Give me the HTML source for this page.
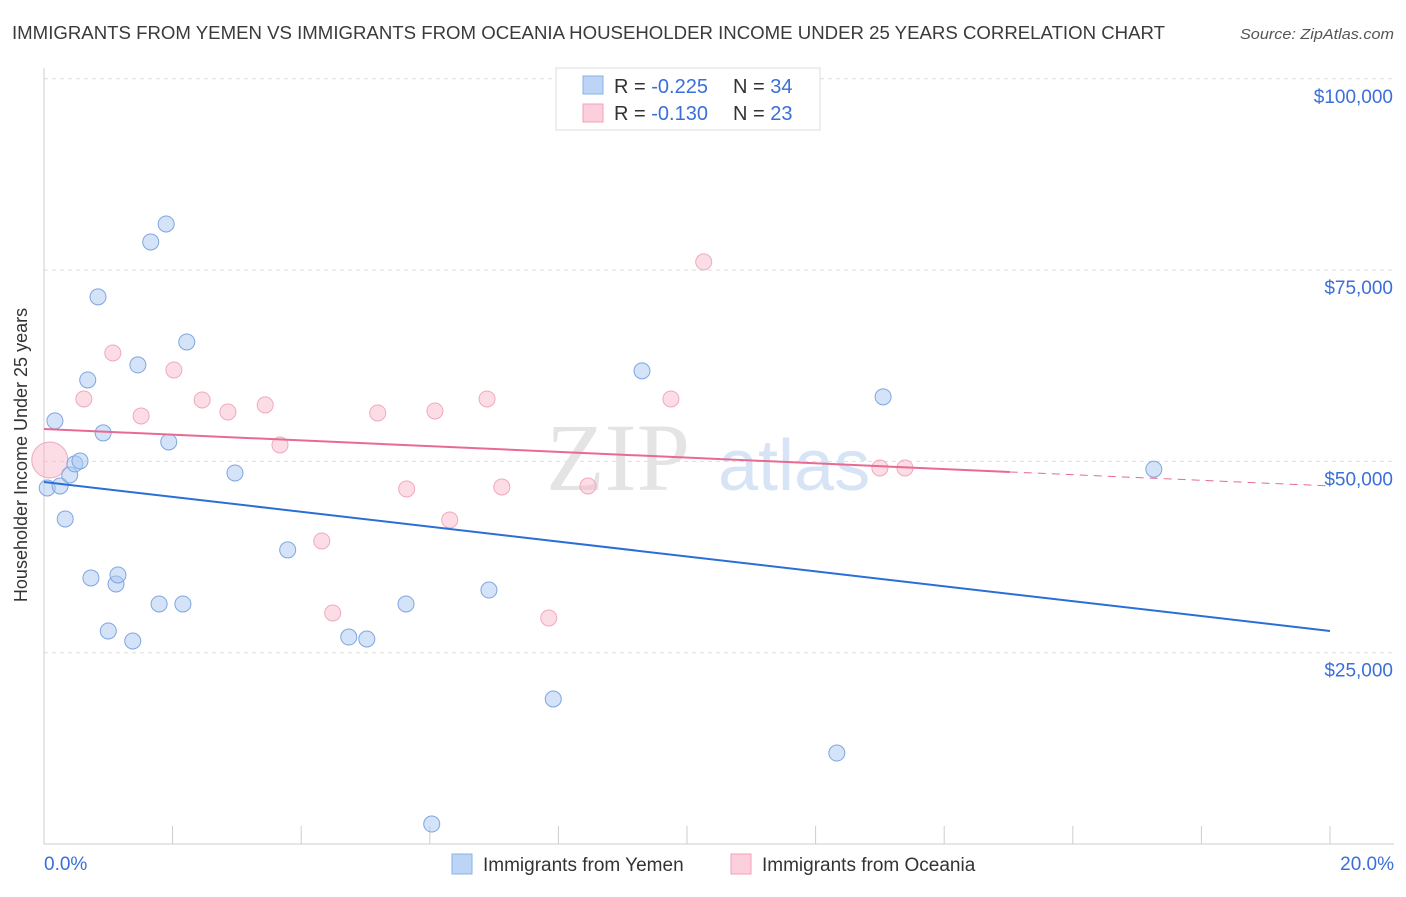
<!DOCTYPE html>
<html><head><meta charset="utf-8"><style>
body{margin:0;background:#fff;font-family:"Liberation Sans",sans-serif;}
</style></head><body>
<svg id="chart" width="1406" height="892" xmlns="http://www.w3.org/2000/svg">
<text x="12" y="39" font-size="18" fill="#3a3a3a" textLength="1153" lengthAdjust="spacingAndGlyphs">IMMIGRANTS FROM YEMEN VS IMMIGRANTS FROM OCEANIA HOUSEHOLDER INCOME UNDER 25 YEARS CORRELATION CHART</text>
<text x="1394" y="39" font-size="15" fill="#555" text-anchor="end" font-style="italic" textLength="154" lengthAdjust="spacingAndGlyphs">Source: ZipAtlas.com</text>
<g id="grid"></g>
<text x="690" y="490" font-size="96" fill="#e4e4e4" text-anchor="end" font-family="Liberation Serif">ZIP</text>
<text x="718" y="490" font-size="72" fill="#d6e4f5">atlas</text>
<text x="27" y="455" font-size="18" fill="#333" text-anchor="middle" transform="rotate(-90 27 455)">Householder Income Under 25 years</text>
<g id="marks"></g>
<g>
<rect x="556" y="68" width="264" height="62" fill="#fff" stroke="#ddd"/>
<rect x="583" y="76" width="20" height="18" fill="#bcd4f5" stroke="#8ab0e6"/>
<text x="614" y="93" font-size="20" fill="#333">R = <tspan fill="#3a6fd8">-0.225</tspan></text>
<text x="733" y="93" font-size="20" fill="#333">N = <tspan fill="#3a6fd8">34</tspan></text>
<rect x="583" y="104" width="20" height="18" fill="#fbd0dc" stroke="#f0a0b8"/>
<text x="614" y="120" font-size="20" fill="#333">R = <tspan fill="#3a6fd8">-0.130</tspan></text>
<text x="733" y="120" font-size="20" fill="#333">N = <tspan fill="#3a6fd8">23</tspan></text>
</g>
<g>
<rect x="452" y="854" width="20" height="20" fill="#bcd4f5" stroke="#8ab0e6"/>
<text x="483" y="871" font-size="19" fill="#333">Immigrants from Yemen</text>
<rect x="731" y="854" width="20" height="20" fill="#fbd0dc" stroke="#f0a0b8"/>
<text x="762" y="871" font-size="19" fill="#333">Immigrants from Oceania</text>
</g>
</svg>
<script>
const yemenX=[0.05,0.17,0.25,0.33,0.40,0.48,0.56,0.68,0.73,0.84,0.92,1.00,1.12,1.15,1.38,1.46,1.66,1.79,1.90,1.94,2.16,2.22,2.97,3.79,4.74,5.02,5.63,6.03,6.92,7.92,9.30,12.33,13.05,17.26];
const yemenY=[46530,55290,46790,42480,48230,49670,50060,60640,34770,71500,53720,27840,33980,35160,26530,62610,78680,31370,81030,52540,31370,65610,48490,38430,27050,26790,31370,2610,33190,18950,61830,11890,58440,48980];
const oceaniaX=[0.09,0.62,1.07,1.51,2.02,2.46,2.86,3.44,3.67,4.32,4.49,5.19,5.64,6.08,6.31,6.89,7.12,7.85,8.46,9.75,10.26,13.0,13.39];
const oceaniaY=[50190,58160,64170,55940,61950,58030,56460,57380,52150,39600,30190,56330,46400,56590,42350,58160,46660,29540,46790,58160,76070,49140,49140];
const yTicks=[25000,50000,75000,100000];
const yTickLabels=["$25,000","$50,000","$75,000","$100,000"];
const xTicks=[0,2,4,6,8,10,12,14,16,18,20];
const yemenTrend=[47310,27840];
const oceaniaTrend=[54240,48620,46790];
const oceaniaSolidEnd=15.02;
const NS="http://www.w3.org/2000/svg";
const sx=v=>44+v/20*1286;
const sy=v=>844-v/25000*191.3;
function mk(tag,attrs,parent){const e=document.createElementNS(NS,tag);for(const k in attrs)e.setAttribute(k,attrs[k]);parent.appendChild(e);return e;}
const grid=document.getElementById('grid'),marks=document.getElementById('marks');
yTicks.forEach((t,i)=>{
 const l=mk('line',{x1:44,x2:1394,y1:sy(t),y2:sy(t),stroke:'#ddd','stroke-dasharray':'4,4'},grid);
 
 
 const tx=mk('text',{x:1393,y:sy(t)+24,'font-size':19,fill:'#3a6fd8','text-anchor':'end'},grid);
 tx.textContent=yTickLabels[i];
 
 
});
const ax=mk('line',{x1:44,x2:1394,y1:844,y2:844,stroke:'#ccc'},grid);


const ay=mk('line',{x1:44,x2:44,y1:68,y2:844,stroke:'#ccc'},grid);


xTicks.forEach(t=>{
 const l=mk('line',{x1:sx(t),x2:sx(t),y1:826,y2:844,stroke:'#ccc'},grid);
 
 
});
[[0,'0.0%','start',44],[20,'20.0%','end',1394]].forEach(a=>{
 const tx=mk('text',{x:a[3],y:870,'font-size':19,fill:'#3a6fd8','text-anchor':a[2]},grid);
 tx.textContent=a[1];
 
 
});
oceaniaX.forEach((x,i)=>{
 const c=mk('circle',{cx:sx(x),cy:sy(oceaniaY[i]),r:i===0?18:8,fill:'rgba(248,180,200,0.45)',stroke:'#f0a8bd','stroke-width':1},marks);
 
 
});
yemenX.forEach((x,i)=>{
 const c=mk('circle',{cx:sx(x),cy:sy(yemenY[i]),r:8,fill:'rgba(170,200,240,0.5)',stroke:'#7ea6e0','stroke-width':1},marks);
 
 
});
const bt=mk('line',{x1:sx(0),y1:sy(yemenTrend[0]),x2:sx(20),y2:sy(yemenTrend[1]),stroke:'#2a6fd6','stroke-width':2},marks);


const pt=mk('line',{x1:sx(0),y1:sy(oceaniaTrend[0]),x2:sx(oceaniaSolidEnd),y2:sy(oceaniaTrend[1]),stroke:'#e86a92','stroke-width':2},marks);


const pd=mk('line',{x1:sx(oceaniaSolidEnd),y1:sy(oceaniaTrend[1]),x2:sx(20),y2:sy(oceaniaTrend[2]),stroke:'#e86a92','stroke-width':1,'stroke-dasharray':'8,6'},marks);


</script>
</body></html>
